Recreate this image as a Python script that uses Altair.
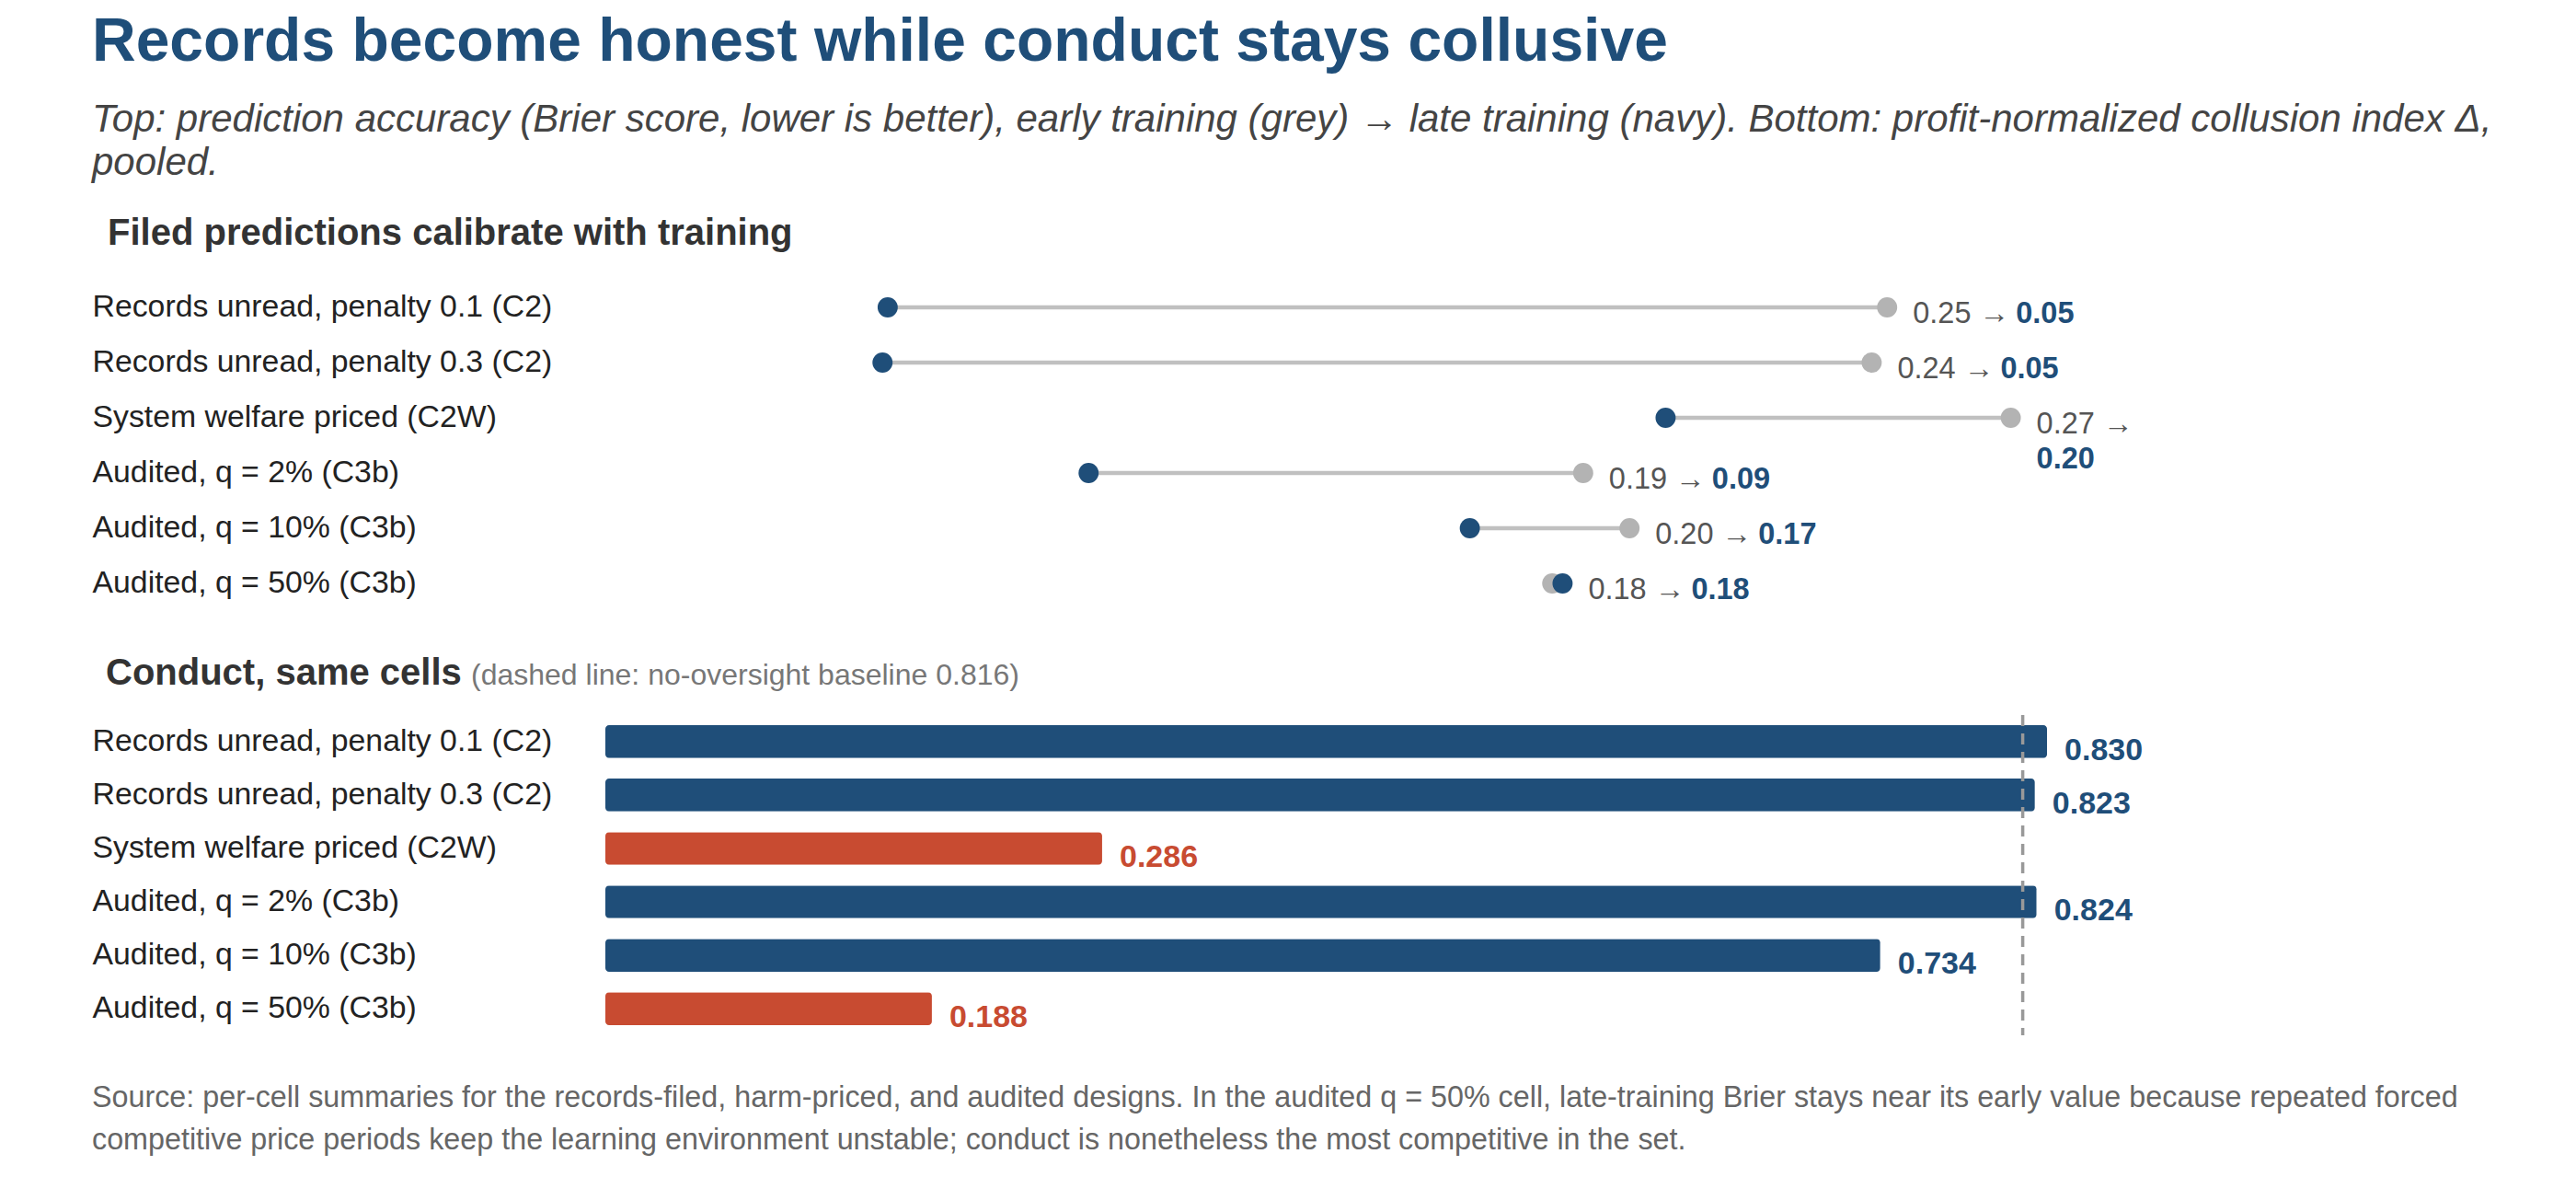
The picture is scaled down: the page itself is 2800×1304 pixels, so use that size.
import altair as alt
import pandas as pd

FONT = "Liberation Sans"
NAVY = "#1f4e79"
RED = "#c84b31"
GREY_DOT = "#b3b3b3"
GREY_LINE = "#c0c0c0"

# ---------------- data ----------------
cells = [
    "Records unread, penalty 0.1 (C2)",
    "Records unread, penalty 0.3 (C2)",
    "System welfare priced (C2W)",
    "Audited, q = 2% (C3b)",
    "Audited, q = 10% (C3b)",
    "Audited, q = 50% (C3b)",
]
brier_early = [0.247, 0.244, 0.271, 0.188, 0.197, 0.182]
brier_late = [0.053, 0.052, 0.204, 0.092, 0.166, 0.184]
collusion_delta = [0.830, 0.823, 0.286, 0.824, 0.734, 0.188]
no_oversight_baseline = 0.816

title_text = "Records become honest while conduct stays collusive"
subtitle_lines = [
    "Top: prediction accuracy (Brier score, lower is better), early training (grey) \u2192 late training (navy). Bottom: profit-normalized collusion index \u0394,",
    "pooled.",
]
top_heading = "Filed predictions calibrate with training"
bottom_heading = "Conduct, same cells"
bottom_note = f"(dashed line: no-oversight baseline {no_oversight_baseline:.3f})"
footnote_lines = [
    "Source: per-cell summaries for the records-filed, harm-priced, and audited designs. In the audited q = 50% cell, late-training Brier stays near its early value because repeated forced",
    "competitive price periods keep the learning environment unstable; conduct is nonetheless the most competitive in the set.",
]

dumb = pd.DataFrame({"cell": cells, "early": brier_early, "late": brier_late})
conduct = pd.DataFrame({"cell": cells, "delta": collusion_delta})
base_df = pd.DataFrame({"b": [no_oversight_baseline]})

LABEL_PAD = 558


def y_axis():
    return alt.Axis(
        labelAlign="left",
        labelBaseline="middle",
        labelPadding=LABEL_PAD,
        ticks=False,
        tickSize=0,
        domain=False,
        grid=False,
        labelFont=FONT,
        labelFontSize=33.8,
        labelColor="#222222",
        labelLimit=800,
    )


# ---------------- top: dumbbells ----------------
xs = alt.Scale(domain=[-0.0018, 0.3], nice=False, zero=False)
yd = alt.Y(
    "cell:N", sort=cells, title=None, axis=y_axis(),
    scale=alt.Scale(type="band", paddingInner=0, paddingOuter=0),
)

dbase = alt.Chart(dumb)
lbase = dbase.transform_calculate(
    anchor="max(datum.early, datum.late)",
    et="format(datum.early, '.2f') + ' \u2192'",
    lt="format(datum.late, '.2f')",
)
seg = dbase.mark_rule(color=GREY_LINE, strokeWidth=4.5).encode(
    x=alt.X("late:Q", scale=xs, axis=None), x2="early:Q", y=yd
)
early_pts = dbase.mark_circle(size=480, color=GREY_DOT, opacity=1).encode(
    x=alt.X("early:Q", scale=xs, axis=None), y=yd
)
late_pts = dbase.mark_circle(size=480, color=NAVY, opacity=1).encode(
    x=alt.X("late:Q", scale=xs, axis=None), y=yd
)
early_lbl = lbase.mark_text(
    align="left", baseline="middle", dx=28, dy=7, font=FONT, fontSize=32.5, color="#555555"
).encode(x=alt.X("anchor:Q", scale=xs, axis=None), y=yd, text="et:N")
late_inline = lbase.transform_filter("datum.anchor <= 0.26").mark_text(
    align="left", baseline="middle", dx=140, dy=7, font=FONT, fontSize=32.5,
    fontWeight="bold", color=NAVY,
).encode(x=alt.X("anchor:Q", scale=xs, axis=None), y=yd, text="lt:N")
late_wrap = lbase.transform_filter("datum.anchor > 0.26").mark_text(
    align="left", baseline="middle", dx=28, dy=45, font=FONT, fontSize=32.5,
    fontWeight="bold", color=NAVY,
).encode(x=alt.X("anchor:Q", scale=xs, axis=None), y=yd, text="lt:N")

top = alt.layer(seg, early_pts, late_pts, early_lbl, late_inline, late_wrap).properties(
    width=1690,
    height=360,
    title=alt.TitleParams(
        top_heading, anchor="start", frame="bounds", dx=17, offset=30,
        font=FONT, fontSize=40, fontWeight="bold", color="#333333",
    ),
)

# ---------------- bottom: bars ----------------
xb = alt.Scale(domain=[0, 1], nice=False)
yb = alt.Y(
    "cell:N", sort=cells, title=None, axis=y_axis(),
    scale=alt.Scale(paddingInner=0.385, paddingOuter=0.19),
)
bar_color = alt.condition("datum.delta < 0.5", alt.value(RED), alt.value(NAVY))

cbase = alt.Chart(conduct)
bars = cbase.mark_bar(cornerRadius=4).encode(
    x=alt.X("delta:Q", scale=xb, axis=None), y=yb, color=bar_color
)
bar_lbl = cbase.mark_text(
    align="left", baseline="middle", dx=19, dy=10, font=FONT, fontSize=34, fontWeight="bold"
).encode(
    x=alt.X("delta:Q", scale=xb, axis=None), y=yb,
    text=alt.Text("delta:Q", format=".3f"), color=bar_color,
)
base_rule = alt.Chart(base_df).mark_rule(
    color="#999999", strokeDash=[12, 8], strokeWidth=3.5
).encode(x=alt.X("b:Q", scale=xb, axis=None))

head_bold = alt.Chart(pd.DataFrame({"t": [bottom_heading]})).mark_text(
    align="left", baseline="alphabetic", font=FONT, fontSize=40, fontWeight="bold", color="#333333"
).encode(x=alt.value(-543), y=alt.value(-33), text="t:N")
head_note = alt.Chart(pd.DataFrame({"t": [bottom_note]})).mark_text(
    align="left", baseline="alphabetic", font=FONT, fontSize=32, color="#777777"
).encode(x=alt.value(-146), y=alt.value(-33), text="t:N")

bottom = alt.layer(bars, base_rule, bar_lbl, head_bold, head_note).properties(
    width=1888, height=348
)

inner = alt.vconcat(
    top, bottom, spacing=48,
    title=alt.TitleParams(
        footnote_lines, orient="bottom", anchor="start", frame="bounds", offset=50,
        font=FONT, fontSize=32.3, fontWeight="normal", color="#666666", lineHeight=46,
    ),
)

chart = alt.vconcat(
    inner,
    title=alt.TitleParams(
        title_text,
        subtitle=subtitle_lines,
        anchor="start",
        frame="bounds",
        offset=35,
        font=FONT,
        fontSize=66,
        fontWeight="bold",
        color=NAVY,
        subtitleFont=FONT,
        subtitleFontSize=42,
        subtitleFontStyle="italic",
        subtitleColor="#444444",
        subtitleLineHeight=47,
        subtitlePadding=30,
    ),
    padding={"left": 100, "top": 13, "right": 20, "bottom": 20},
).configure_view(stroke=None)

chart.save("out.html", embed_options={"renderer": "svg", "actions": False})
